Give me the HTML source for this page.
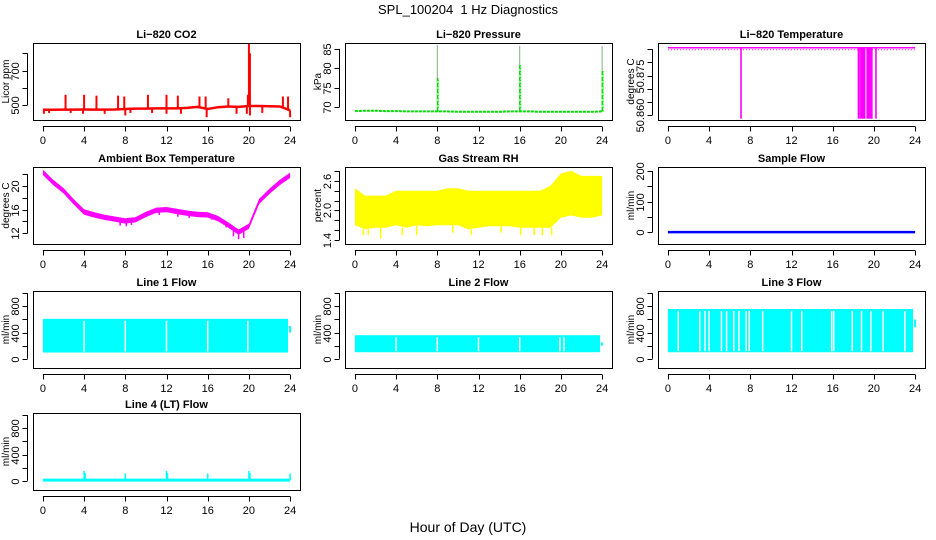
<!DOCTYPE html>
<html><head><meta charset="utf-8"><style>
html,body{margin:0;padding:0;background:#fff;}
svg{display:block;font-family:"Liberation Sans",Arial,sans-serif;}
</style></head><body>
<svg id="fig" width="936" height="540" viewBox="0 0 936 540">
<text x="468" y="14" text-anchor="middle" font-size="13">SPL_100204&#160; 1 Hz Diagnostics</text>
<text x="468" y="532" text-anchor="middle" font-size="14">Hour of Day (UTC)</text>
</svg>
<script>
// ---- data ----
const hours = [0,1,2,3,4,5,6,7,8,9,10,11,12,13,14,15,16,17,18,19,20,21,22,23,24];
const xTicks = [0,4,8,12,16,20,24];
// CO2
const co2Base = [473,473,474,474,475,474,474,475,478,480,480,481,481,481,484,490,478,488,492,490,495,495,494,492,470];
const co2SpikeT = [2.2,4.0,5.2,7.3,7.9,10.2,12.0,13.1,15.2,15.8,18.0,19.9,20.0,20.1,23.3,23.8,0.1,0.6,2.7,3.9,6.0,8.0,8.5,10.6,12.0,13.4,15.9,18.8,19.8,20.1,21.3,24.0];
const co2SpikeV = [560,560,555,555,550,560,560,555,550,550,540,560,860,800,550,550,450,455,455,450,450,440,455,455,450,450,430,450,450,440,455,430];
// Pressure
const presBase = [69,69.1,69.1,69,69,68.9,68.9,68.9,68.9,68.9,68.8,68.8,68.8,68.8,68.8,68.9,68.9,68.9,68.8,68.8,68.8,68.8,68.8,68.8,68.9];
const presSpikeT = [8,16,24];
const presSpikeV = [86,85.8,85.6];
const presSpikeMid = [77.5,80.8,79.3];
// Li-820 temperature
const liTop = 50.8856;
const liDropT = [7.1,18.5,18.65,18.8,18.9,19.0,19.1,19.35,19.5,19.6,19.7,19.8,20.2];
const liDropV = [50.8586,50.8586,50.8586,50.8586,50.8586,50.8586,50.8586,50.8586,50.8586,50.8586,50.8586,50.8586,50.8586];
// Ambient box temperature
const ambMid = [22.3,20.6,19.2,17.3,15.6,15.1,14.7,14.4,14.1,14.3,15.2,15.9,16.0,15.7,15.4,15.2,15.1,14.5,13.4,12.2,13.2,17.4,19.1,20.6,21.8];
const ambDipT = [7.5,8.1,8.6,11.3,13.1,14.2,16.4,17.8,18.5,19.0,19.5];
const ambDipV = [13.3,13.2,13.4,15.1,14.8,14.6,14.3,13.0,11.5,11.0,11.2];
// Gas stream RH
const rhUpper = [2.45,2.30,2.30,2.30,2.40,2.40,2.40,2.40,2.40,2.45,2.45,2.40,2.40,2.40,2.40,2.40,2.40,2.40,2.40,2.50,2.75,2.80,2.70,2.70,2.70];
const rhLower = [1.70,1.62,1.65,1.65,1.70,1.65,1.70,1.68,1.70,1.70,1.70,1.62,1.65,1.68,1.68,1.68,1.65,1.65,1.65,1.65,1.85,1.90,1.85,1.85,1.90];
const rhDipT = [0.8,1.3,2.5,4.6,6.0,9.5,11.3,14.2,16.1,17.4,18.2,19.1];
const rhDipV = [1.5,1.5,1.43,1.5,1.5,1.55,1.5,1.55,1.5,1.5,1.5,1.5];
// Sample flow
const sampleVal = [0,0,0,0,0,0,0,0,0,0,0,0,0,0,0,0,0,0,0,0,0,0,0,0,0];
// Line flows
const line1Hi = 610, line1Lo = 95, line1End = 23.8, line1Tail = 500;
const line1Gaps = [4.0,8.0,12.0,16.0,19.9];
const line2Hi = 360, line2Lo = 100, line2End = 23.8, line2Tail = 250;
const line2Gaps = [4.0,8.0,12.0,16.0,19.9,20.3];
const line3Hi = 760, line3Lo = 100, line3End = 23.8, line3Tail = 600;
const line3Gaps = [1.0,3.1,3.6,4.0,5.2,5.7,6.4,6.9,7.6,7.9,9.2,12.0,13.0,15.9,16.1,17.9,18.8,19.7,20.9,23.0];
const line4Base = 10;
const line4SpikeT = [4.0,4.1,8.0,12.0,12.1,16.0,20.0,20.1,24.0];
const line4SpikeV = [150,120,110,150,120,110,150,120,110];

// ---- layout ----
const svg = document.getElementById('fig');
const NS = 'http://www.w3.org/2000/svg';
function mk(tag, attrs, parent){
  const e = document.createElementNS(NS, tag);
  for (const k in attrs) e.setAttribute(k, attrs[k]);
  (parent||svg).appendChild(e);
  return e;
}
const colL = [33,345,658], W = 267;
const rowT = [43,167,291,413], H = 77;

function panel(name, col, row, title, ylab, usr, yticks, ylabels){
  const g = mk('g', {});
  
  
  const L = colL[col], T = rowT[row], B = T + H;
  const pad = W*0.04/1.08;
  const X = t => L + pad + t/24*(W-2*pad);
  const Y = v => B - (v-usr[0])/(usr[1]-usr[0])*H;
  const plot = mk('g', {}, g);
  
  
  const ax = mk('g', {stroke:'#000','stroke-width':1,fill:'none'}, g);
  
  
  mk('rect', {x:L+0.5, y:T+0.5, width:W, height:H}, ax);
  mk('line', {x1:X(0), x2:X(24), y1:B+6.5, y2:B+6.5}, ax);
  xTicks.forEach(t => {
    mk('line', {x1:Math.round(X(t))+0.5, x2:Math.round(X(t))+0.5, y1:B+6.5, y2:B+11.5}, ax);
    const tx = mk('text', {x:X(t), y:B+24, 'text-anchor':'middle','font-size':11, fill:'#000', stroke:'none'}, g);
    tx.textContent = t;
  });
  const y0 = Y(yticks[0]), y1 = Y(yticks[yticks.length-1]);
  mk('line', {x1:L-5.5, x2:L-5.5, y1:y0, y2:y1}, ax);
  yticks.forEach((v,i) => {
    const yy = Math.round(Y(v))+0.5;
    mk('line', {x1:L-10.5, x2:L-5.5, y1:yy, y2:yy}, ax);
    if (ylabels[i] !== '') {
      const tx = mk('text', {x:0, y:0, transform:`translate(${L-14},${yy}) rotate(-90)`, 'text-anchor':'middle','font-size':11, fill:'#000', stroke:'none'}, g);
      tx.textContent = ylabels[i];
    }
  });
  const tt = mk('text', {x:L+W/2, y:T-5, 'text-anchor':'middle','font-size':11,'font-weight':'bold', fill:'#000'}, g);
  tt.textContent = title;
  const yl = mk('text', {x:0,y:0, transform:`translate(${L-24},${T+H/2}) rotate(-90)`, 'text-anchor':'middle','font-size':10, fill:'#000'}, g);
  yl.textContent = ylab;
  return {X, Y, plot};
}
function lineThrough(p, vals, attrs){
  const pts = hours.map((t,i)=>p.X(t).toFixed(1)+','+p.Y(vals[i]).toFixed(1)).join(' ');
  return mk('polyline', Object.assign({points:pts, fill:'none'}, attrs), p.plot);
}
function band(p, hi, lo, color){
  const up = hours.map((t,i)=>p.X(t).toFixed(1)+','+p.Y(hi[i]).toFixed(1));
  const dn = hours.map((t,i)=>p.X(t).toFixed(1)+','+p.Y(lo[i]).toFixed(1)).reverse();
  return mk('polygon', {points: up.concat(dn).join(' '), fill: color}, p.plot);
}

// CO2
{
  const p = panel('co2', 0, 0, 'Li\u2212820 CO2', 'Licor ppm', [414,860], [500,600,700,800], ['500','','700','']);
  const l = lineThrough(p, co2Base, {stroke:'#ff0000','stroke-width':2.5});
  
  
  co2SpikeT.forEach((t,i)=>{
    const s = mk('line', {x1:p.X(t), x2:p.X(t), y1:p.Y(co2Base[Math.round(t)]), y2:p.Y(co2SpikeV[i]), stroke:'#ff0000','stroke-width':2}, p.plot);
    
    
  });
}
// Pressure
{
  const p = panel('pressure', 1, 0, 'Li\u2212820 Pressure', 'kPa', [66.7,86.5], [70,75,80,85], ['70','75','80','85']);
  const l = lineThrough(p, presBase, {stroke:'#00dd00','stroke-width':2,'stroke-dasharray':'3,1'});
  
  
  presSpikeT.forEach((t,i)=>{
    const s = mk('line', {x1:p.X(t), x2:p.X(t), y1:p.Y(presBase[Math.round(t)]), y2:p.Y(presSpikeV[i]), stroke:'#006600','stroke-width':1,'stroke-dasharray':'1,1'}, p.plot);
    
    
    const m = mk('line', {x1:p.X(t)+0.5, x2:p.X(t)+0.5, y1:p.Y(presBase[Math.round(t)]), y2:p.Y(presSpikeMid[i]), stroke:'#00ee00','stroke-width':2,'stroke-dasharray':'2,1'}, p.plot);
    
    
  });
}
// Li-820 temperature
{
  const p = panel('li820-temp', 2, 0, 'Li\u2212820 Temperature', 'degrees C', [50.8581,50.8874], [50.860,50.865,50.870,50.875,50.880,50.885], ['50.860','','','50.875','','']);
  const l = mk('line', {x1:p.X(0), x2:p.X(24), y1:p.Y(liTop), y2:p.Y(liTop), stroke:'#ff00ff','stroke-width':1.5}, p.plot);
  
  
  const d = mk('line', {x1:p.X(0), x2:p.X(24), y1:p.Y(liTop)+2, y2:p.Y(liTop)+2, stroke:'#ff00ff','stroke-width':1,'stroke-dasharray':'1,2'}, p.plot);
  
  
  liDropT.forEach((t,i)=>{
    const s = mk('line', {x1:p.X(t), x2:p.X(t), y1:p.Y(liTop), y2:p.Y(liDropV[i]), stroke:'#ff00ff','stroke-width':1.6}, p.plot);
    
    
  });
}
// Ambient box temperature
{
  const p = panel('ambient-temp', 0, 1, 'Ambient Box Temperature', 'degrees C', [10.2,23.2], [12,14,16,18,20,22], ['12','','16','','20','']);
  const hi = ambMid.map(v=>v+0.45), lo = ambMid.map(v=>v-0.45);
  const b = band(p, hi, lo, '#ff00ff');
  
  
  ambDipT.forEach((t,i)=>{
    const base = ambMid[Math.floor(t)] + (ambMid[Math.ceil(t)]-ambMid[Math.floor(t)])*(t-Math.floor(t));
    const s = mk('line', {x1:p.X(t), x2:p.X(t), y1:p.Y(base), y2:p.Y(ambDipV[i]), stroke:'#ff00ff','stroke-width':1.5}, p.plot);
    
    
  });
}
// RH
{
  const p = panel('gas-rh', 1, 1, 'Gas Stream RH', 'percent', [1.32,2.88], [1.4,1.6,1.8,2.0,2.2,2.4,2.6,2.8], ['1.4','','','2.0','','','2.6','']);
  const b = band(p, rhUpper, rhLower, '#ffff00');
  
  
  rhDipT.forEach((t,i)=>{
    const s = mk('line', {x1:p.X(t), x2:p.X(t), y1:p.Y(rhLower[Math.round(t)]), y2:p.Y(rhDipV[i]), stroke:'#ffff00','stroke-width':1.5}, p.plot);
    
    
  });
}
// Sample flow
{
  const p = panel('sample-flow', 2, 1, 'Sample Flow', 'ml/min', [-39,213], [0,50,100,150,200], ['0','','100','','200']);
  const l = lineThrough(p, sampleVal, {stroke:'#0000ff','stroke-width':2.5});
  
  
}
// Line flows
function flowPanel(name, col, row, title, hiV, loV, endT, tailV, gaps){
  const p = panel(name, col, row, title, 'ml/min', [-141,1035], [0,200,400,600,800,1000], ['0','','400','','800','']);
  const r = mk('rect', {x:p.X(0), y:p.Y(hiV), width:p.X(endT)-p.X(0), height:p.Y(loV)-p.Y(hiV), fill:'#00ffff'}, p.plot);
  
  
  const tl = mk('line', {x1:p.X(24), x2:p.X(24), y1:p.Y(tailV), y2:p.Y(tailV*0.8), stroke:'#00ffff','stroke-width':2}, p.plot);
  
  
  gaps.forEach(t=>{
    const gl = mk('line', {x1:p.X(t), x2:p.X(t), y1:p.Y(hiV)+2, y2:p.Y(loV)-1, stroke:'#ffffff','stroke-width':1.5}, p.plot);
    
    
  });
}
flowPanel('line1-flow', 0, 2, 'Line 1 Flow', line1Hi, line1Lo, line1End, line1Tail, line1Gaps);
flowPanel('line2-flow', 1, 2, 'Line 2 Flow', line2Hi, line2Lo, line2End, line2Tail, line2Gaps);
flowPanel('line3-flow', 2, 2, 'Line 3 Flow', line3Hi, line3Lo, line3End, line3Tail, line3Gaps);
{
  const p = panel('line4-flow', 0, 3, 'Line 4 (LT) Flow', 'ml/min', [-141,1035], [0,200,400,600,800,1000], ['0','','400','','800','']);
  const l = mk('line', {x1:p.X(0), x2:p.X(24), y1:p.Y(line4Base), y2:p.Y(line4Base), stroke:'#00ffff','stroke-width':3}, p.plot);
  
  
  line4SpikeT.forEach((t,i)=>{
    const s = mk('line', {x1:p.X(t), x2:p.X(t), y1:p.Y(line4Base), y2:p.Y(line4SpikeV[i]), stroke:'#00ffff','stroke-width':1.5}, p.plot);
    
    
  });
}
</script>
</body></html>
